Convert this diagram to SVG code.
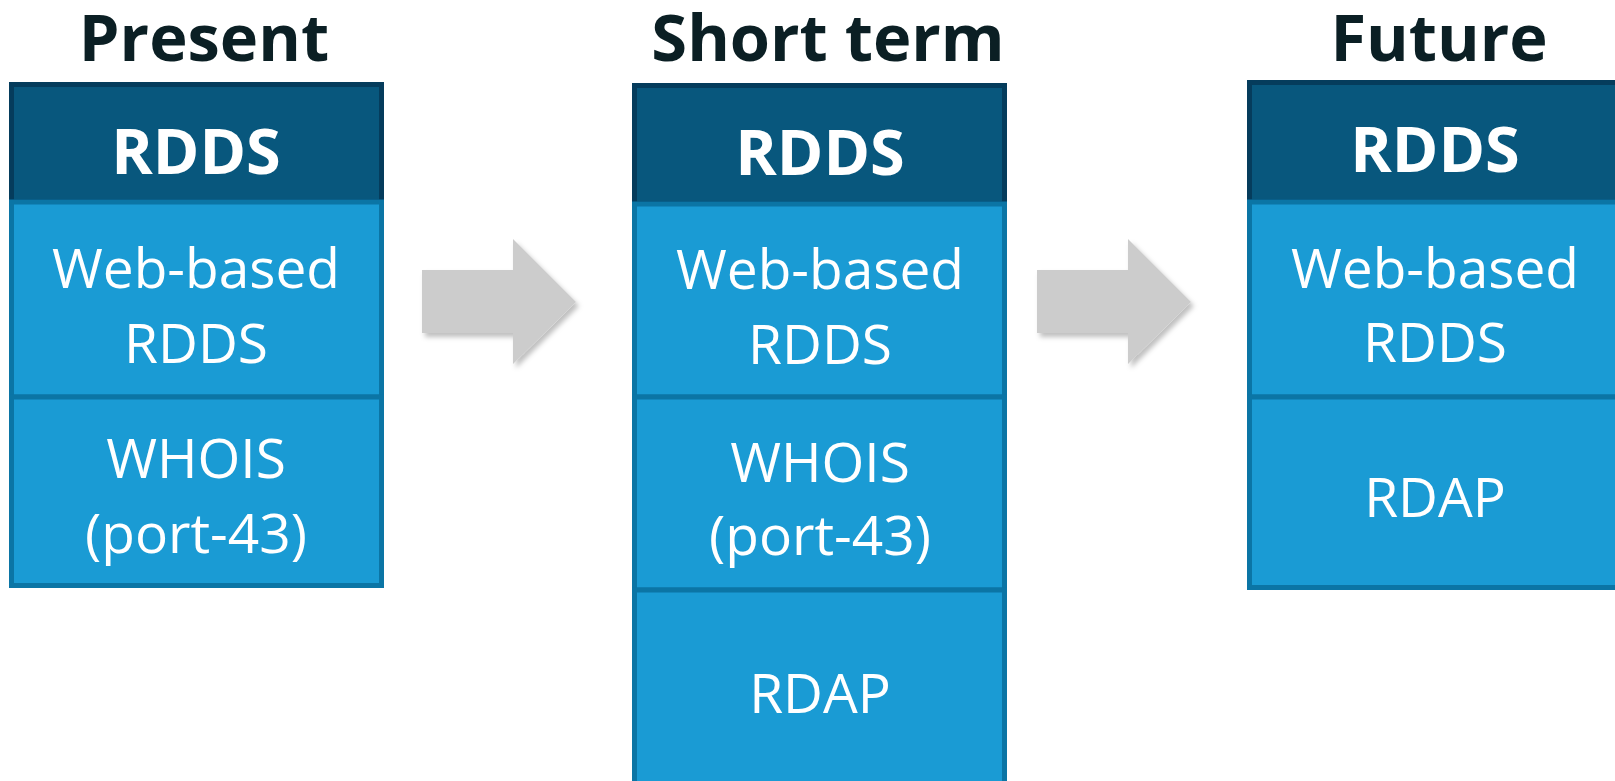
<svg xmlns="http://www.w3.org/2000/svg" width="1615" height="781" viewBox="0 0 1615 781">
<style>
.title{font-family:"Open Sans","Liberation Sans",sans-serif;font-weight:700;font-size:65px;fill:#0B1F24;text-anchor:middle}
.hdr{fill:#08577D;stroke:#053C5C;stroke-width:5}
.cell{fill:#1A9BD4;stroke:#0B75A5;stroke-width:5}
.ht{font-family:"Open Sans","Liberation Sans",sans-serif;font-weight:700;font-size:63px;fill:#FFFFFF;text-anchor:middle}
.ct{font-family:"Open Sans","Liberation Sans",sans-serif;font-weight:400;font-size:55px;fill:#FFFFFF;text-anchor:middle}
.arrow{fill:#CCCCCC;filter:url(#sh)}
</style>
<defs>
<filter id="sh" x="-20%" y="-20%" width="150%" height="150%">
<feDropShadow dx="3" dy="4" stdDeviation="2.5" flood-color="#000" flood-opacity="0.25"/>
</filter>
</defs>
<rect width="1615" height="781" fill="#FFFFFF"/>

<g id="present">
<text class="title" x="204" y="61">Present</text>
<rect class="hdr" x="11.5" y="84.5" width="370" height="117.5"/>
<rect class="cell" x="11.5" y="202" width="370" height="195"/>
<rect class="cell" x="11.5" y="397" width="370" height="188.5"/>
<text class="ht" x="196" y="174">RDDS</text>
<text class="ct" x="196" y="288">Web-based</text>
<text class="ct" x="196" y="363">RDDS</text>
<text class="ct" x="196" y="478">WHOIS</text>
<text class="ct" x="196" y="553">(port-43)</text>
</g>

<g id="shortterm">
<text class="title" x="828" y="61">Short term</text>
<rect class="hdr" x="634.5" y="85.5" width="370" height="118.5"/>
<rect class="cell" x="634.5" y="204" width="370" height="193"/>
<rect class="cell" x="634.5" y="397" width="370" height="193"/>
<rect class="cell" x="634.5" y="590" width="370" height="200"/>
<text class="ht" x="820" y="175">RDDS</text>
<text class="ct" x="820" y="289">Web-based</text>
<text class="ct" x="820" y="364">RDDS</text>
<text class="ct" x="820" y="482">WHOIS</text>
<text class="ct" x="820" y="555">(port-43)</text>
<text class="ct" x="820" y="713">RDAP</text>
</g>

<g id="future">
<text class="title" x="1439" y="61">Future</text>
<rect class="hdr" x="1249.5" y="82.5" width="370" height="119.5"/>
<rect class="cell" x="1249.5" y="202" width="370" height="195"/>
<rect class="cell" x="1249.5" y="397" width="370" height="190.5"/>
<text class="ht" x="1435" y="172">RDDS</text>
<text class="ct" x="1435" y="288">Web-based</text>
<text class="ct" x="1435" y="362">RDDS</text>
<text class="ct" x="1435" y="517">RDAP</text>
</g>

<g id="connectors">
<polygon class="arrow" points="422,270 513,270 513,239 576,302 513,364 513,333 422,333"/>
<polygon class="arrow" points="1037,270 1128,270 1128,239 1191,302 1128,364 1128,333 1037,333"/>
</g>
</svg>
